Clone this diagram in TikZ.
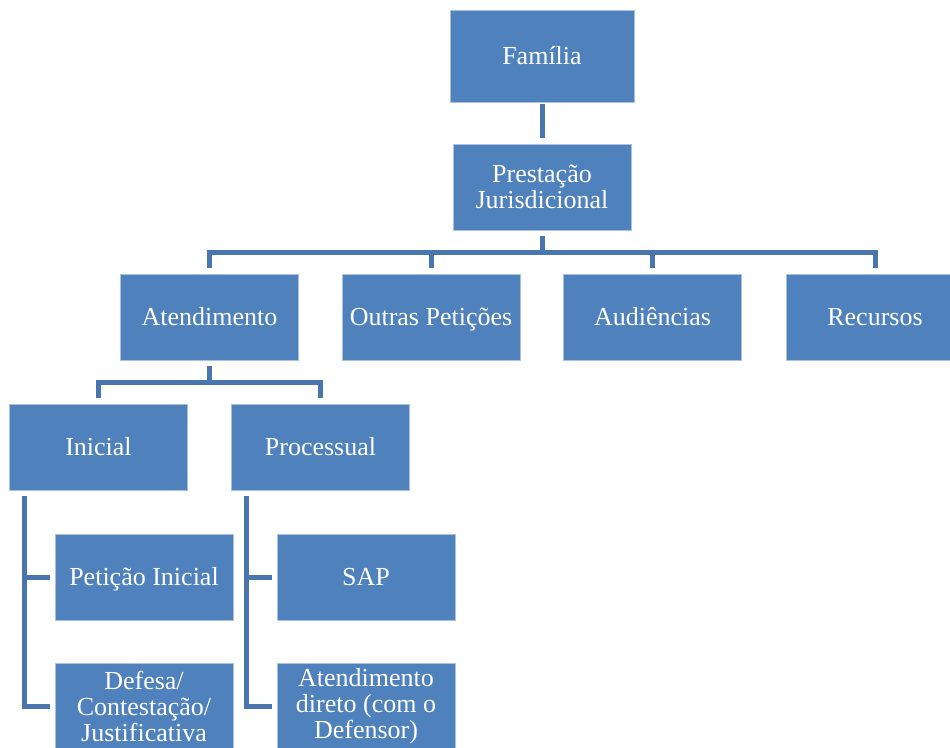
\documentclass[tikz,border=0pt]{standalone}
\usepackage{fontspec}
\setmainfont{Liberation Serif}

\definecolor{boxblue}{HTML}{4F81BD}
\definecolor{boxedge}{HTML}{A9C0DE}
\definecolor{linkblue}{HTML}{4A76AF}

\begin{document}
\begin{tikzpicture}[x=1pt,y=-1pt,
  box/.style={rectangle, fill=boxblue, draw=boxedge, line width=0.6pt,
    minimum width=178pt, minimum height=86pt,
    inner sep=0pt, align=center, text=white,
    font=\fontsize{26}{26}\selectfont},
  oneline/.style={box, text height=18pt, text depth=1.5pt},
  conn/.style={draw=linkblue, line width=5pt, line join=miter}]

\clip (0,0) rectangle (950,747);

% top of the hierarchy
\node[oneline, minimum width=184pt, minimum height=92pt] (fam) at (542,56.5) {Família};
\node[box] (pj) at (542,187) {Prestação\\Jurisdicional};

% second level
\node[oneline] (at) at (209.5,317) {Atendimento};
\node[oneline] (op) at (431,317) {Outras Petições};
\node[oneline] (au) at (652.5,317) {Audiências};
\node[oneline] (re) at (875,317) {Recursos};

% third level
\node[oneline] (ini) at (98.5,447) {Inicial};
\node[oneline] (pro) at (320.5,447) {Processual};

% leaves
\node[oneline] (pet) at (144,577) {Petição Inicial};
\node[box] (def) at (144,706) {Defesa/\\Contestação/\\Justificativa};
\node[oneline] (sap) at (366,577) {SAP};
\node[box] (atd) at (366,706) {Atendimento\\direto (com o\\Defensor)};

% connectors
\draw[conn, shorten <=1pt, shorten >=6pt] (fam) -- (pj);
\foreach \c in {at,op,au,re}
  \draw[conn, shorten <=6pt, shorten >=6pt] (pj.south) -- ++(0,22) -| (\c.north);
\foreach \c in {ini,pro}
  \draw[conn, shorten <=6pt, shorten >=6pt] (at.south) -- ++(0,22.5) -| (\c.north);
\foreach \c in {pet,def}
  \draw[conn, shorten <=6pt, shorten >=5pt] ([xshift=15pt]ini.south west) |- (\c.west);
\foreach \c in {sap,atd}
  \draw[conn, shorten <=6pt, shorten >=5pt] ([xshift=15pt]pro.south west) |- (\c.west);
\end{tikzpicture}
\end{document}
